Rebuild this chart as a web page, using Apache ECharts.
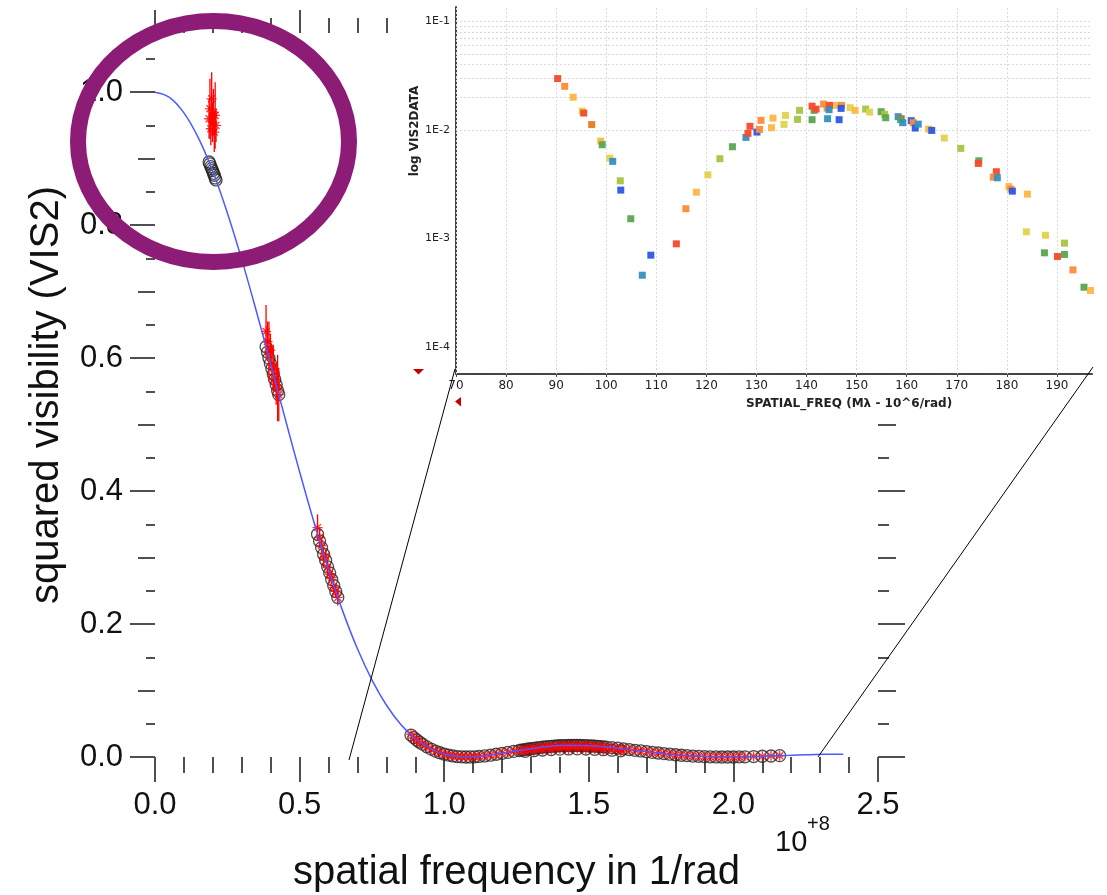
<!DOCTYPE html>
<html><head><meta charset="utf-8">
<script src="https://cdn.jsdelivr.net/npm/echarts@6/dist/echarts.min.js"></script>
<style>html,body{margin:0;padding:0;background:#fff}#c{width:1107px;height:895px}</style>
</head><body><div id="c"></div>
<script>
// ---------- main plot: model curve (spatial frequency in 1e8 / rad) ----------
const modelCurveFreq = [0,0.05,0.1,0.15,0.2,0.25,0.3,0.35,0.4,0.45,0.5,0.55,0.6,0.65,0.7,0.75,0.8,0.85,0.9,0.95,1.0,1.05,1.08,
  1.13,1.18,1.24,1.30,1.35,1.41,1.47,1.52,1.58,1.63,1.69,1.75,1.80,1.86,1.92,1.97,2.03,2.09,2.14,2.20,2.25,2.31,2.38];
const modelCurveVis2 = [1.0,0.9922,0.9689,0.9313,0.8806,0.8187,0.7481,0.6712,0.5906,0.5091,0.4290,0.3527,0.2819,0.2183,0.1629,0.1161,0.0782,0.0488,0.0274,0.0129,0.0044,0.0005,0.0,
  0.0011,0.0044,0.0085,0.0124,0.0155,0.0172,0.0174,0.0164,0.0143,0.0115,0.0085,0.0056,0.0032,0.0014,0.0004,0.0,0.0002,0.0009,0.0018,0.0027,0.0034,0.0040,0.0042];

// ---------- main plot: observations ----------
const freq = [
  0.187,0.190,0.193,0.196,0.199,0.202,0.205,0.208,0.211,
  0.384,0.389,0.394,0.399,0.404,0.409,0.414,0.419,0.424,0.428,
  0.562,0.569,0.576,0.583,0.590,0.597,0.604,0.611,0.618,0.625,0.632,
  0.885,0.895,0.905,0.915,0.925,0.940,0.955,0.970,0.985,1.000,1.015,1.030,1.045,1.060,1.075,1.090,1.105,
  1.12,1.14,1.16,1.18,1.20,1.22,1.24,1.26,
  1.27,1.28,1.29,1.30,1.31,1.32,1.33,1.34,1.35,1.36,1.37,1.38,1.39,1.40,1.41,1.42,1.43,1.44,1.45,1.46,1.47,1.48,1.49,1.50,1.51,1.52,1.53,1.54,1.55,1.56,
  1.58,1.60,1.62,1.64,1.66,1.68,1.70,1.72,1.74,1.76,1.78,1.80,1.82,1.84,1.86,1.88,1.90,1.92,1.94,1.96,1.98,2.00,2.02,2.04,
  2.07,2.10,2.13,2.16,
  1.28,1.31,1.34,1.37,1.40,1.43,1.46,1.49,1.52,1.55,1.58,1.61];
const vis2Model = [
  0.895,0.892,0.888,0.885,0.882,0.878,0.875,0.871,0.868,
  0.617,0.609,0.600,0.592,0.584,0.576,0.568,0.560,0.551,0.545,
  0.335,0.325,0.315,0.305,0.296,0.286,0.277,0.267,0.258,0.249,0.240,
  0.0330,0.0292,0.0256,0.0223,0.0193,0.0153,0.0118,0.0088,0.0064,0.0044,0.0028,0.0016,0.0007,0.0002,0.0000,0.0001,0.0003,
  0.0008,0.0016,0.0027,0.0041,0.0054,0.0069,0.0085,0.0098,
  0.0105,0.0112,0.0120,0.0126,0.0131,0.0137,0.0142,0.0148,0.0153,0.0157,0.0160,0.0163,0.0166,0.0169,0.0172,0.0172,0.0173,0.0173,0.0174,0.0174,0.0173,0.0172,0.0170,0.0168,0.0166,0.0164,0.0161,0.0157,0.0153,0.0149,
  0.0142,0.0132,0.0122,0.0112,0.0101,0.0091,0.0080,0.0070,0.0060,0.0051,0.0042,0.0034,0.0026,0.0020,0.0014,0.0010,0.0006,0.0003,0.0001,0.0000,0.0000,0.0000,0.0002,0.0003,
  0.0007,0.0011,0.0015,0.0020,
  0.0085,0.0095,0.0105,0.0112,0.0118,0.0121,0.0122,0.0120,0.0116,0.0110,0.0102,0.0093];
const vis2Obs = [
  0.960,0.975,0.945,0.990,0.955,0.970,0.940,0.965,0.950,
  0.640,0.625,0.610,0.612,0.590,0.585,0.570,0.560,0.555,0.545,
  0.345,0.330,0.318,0.300,0.302,0.285,0.275,0.270,0.255,0.250,0.240,
  0.0345,0.0285,0.0262,0.0218,0.0198,0.0149,0.0122,0.0085,0.0067,0.0041,0.0030,0.0014,0.0009,0.0003,0.0002,0.0001,0.0004,
  0.0012,0.0014,0.0031,0.0038,0.0058,0.0066,0.0089,0.0095,
  0.0110,0.0108,0.0125,0.0122,0.0136,0.0133,0.0148,0.0144,0.0158,0.0152,0.0166,0.0159,0.0171,0.0165,0.0178,0.0168,0.0179,0.0170,0.0180,0.0171,0.0178,0.0168,0.0175,0.0164,0.0170,0.0160,0.0166,0.0153,0.0158,0.0145,
  0.0147,0.0128,0.0127,0.0108,0.0106,0.0087,0.0084,0.0067,0.0064,0.0048,0.0045,0.0031,0.0029,0.0018,0.0016,0.0009,0.0008,0.0002,0.0003,0.0001,0.0002,0.0001,0.0003,0.0002,
  0.0009,0.0010,0.0017,0.0019,
  0.0090,0.0092,0.0110,0.0108,0.0123,0.0117,0.0127,0.0116,0.0121,0.0106,0.0107,0.0089];
const vis2Err = [
  0.030,0.045,0.025,0.040,0.030,0.035,0.030,0.050,0.025,
  0.040,0.030,0.045,0.025,0.030,0.035,0.020,0.030,0.050,0.040,
  0.020,0.015,0.012,0.015,0.010,0.012,0.014,0.010,0.012,0.010,0.012,
  0.0030,0.0020,0.0020,0.0020,0.0015,0.0015,0.0010,0.0010,0.0010,0.0008,0.0008,0.0008,0.0006,0.0006,0.0006,0.0006,0.0006,
  0.0012,0.0012,0.0013,0.0013,0.0014,0.0014,0.0015,0.0015,
  0.0016,0.0016,0.0017,0.0017,0.0018,0.0018,0.0018,0.0019,0.0019,0.0019,0.0020,0.0020,0.0020,0.0020,0.0021,0.0021,0.0021,0.0021,0.0021,0.0021,0.0021,0.0021,0.0020,0.0020,0.0020,0.0020,0.0019,0.0019,0.0019,0.0018,
  0.0018,0.0017,0.0016,0.0015,0.0014,0.0013,0.0012,0.0012,0.0011,0.0011,0.0010,0.0010,0.0009,0.0009,0.0008,0.0008,0.0008,0.0007,0.0007,0.0007,0.0007,0.0007,0.0007,0.0007,
  0.0008,0.0008,0.0009,0.0009,
  0.0015,0.0015,0.0015,0.0015,0.0015,0.0015,0.0015,0.0015,0.0015,0.0015,0.0015,0.0015];

// ---------- main plot tick values ----------
const xMajorTicks = [0,0.5,1.0,1.5,2.0,2.5];
const xMinorTicks = [0,0.1,0.2,0.3,0.4,0.5,0.6,0.7,0.8,0.9,1.0,1.1,1.2,1.3,1.4,1.5,1.6,1.7,1.8,1.9,2.0,2.1,2.2,2.3,2.4,2.5];
const topMajorTicks = [0,0.5];
const topMinorTicks = [0,0.1,0.2,0.3,0.4,0.5,0.6,0.7,0.8];
const yMajorTicks = [0,0.2,0.4,0.6,0.8,1.0];
const yMidTicks = [0,0.1,0.2,0.3,0.4,0.5,0.6,0.7,0.8,0.9,1.0];
const yMinorTicks = [0,0.05,0.1,0.15,0.2,0.25,0.3,0.35,0.4,0.45,0.5,0.55,0.6,0.65,0.7,0.75,0.8,0.85,0.9,0.95,1.0,1.05];
const rightMajorTicks = [0,0.2,0.4];
const rightMidTicks = [0,0.1,0.2,0.3,0.4,0.5];
const rightMinorTicks = [0,0.05,0.1,0.15,0.2,0.25,0.3,0.35,0.4,0.45,0.5];

// ---------- inset (SPATIAL_FREQ in Mlambda, log VIS2DATA) ----------
const insetFreq = [90.3,91.7,93.4,95.2,95.5,97.1,98.9,99.2,100.7,101.3,102.8,102.9,104.9,107.2,108.9,114.0,115.9,118.0,120.3,122.7,125.2,127.9,128.3,128.7,
  130.1,130.6,130.9,133.0,133.3,135.5,135.8,138.2,138.6,141.1,141.5,141.1,141.9,143.4,144.1,144.6,144.2,144.5,146.0,147.0,146.5,146.9,148.7,149.7,151.8,152.6,
  154.9,155.6,155.8,158.3,158.9,158.8,159.2,160.9,161.3,161.7,162.3,164.4,165.0,167.5,170.8,174.4,174.3,177.9,177.3,178.1,180.4,180.8,181.1,184.1,
  183.9,187.7,187.5,191.5,191.5,190.1,193.2,195.4,196.7];
const insetVis2 = [0.0297,0.0252,0.0200,0.0149,0.0143,0.0112,0.00789,0.00730,0.00549,0.00513,0.00340,0.00279,0.00152,0.000459,0.000702,0.000893,0.00188,0.00267,0.00386,0.00543,0.00700,0.00853,0.00929,0.0108,
  0.00955,0.0101,0.01225,0.01047,0.01285,0.01125,0.0136,0.0125,0.01514,0.01242,0.01514,0.01655,0.01555,0.0173,0.01589,0.01683,0.01268,0.01535,0.01683,0.01683,0.01242,0.01578,0.01603,0.01514,0.01555,0.01459,
  0.01472,0.0139,0.01294,0.01324,0.01268,0.01242,0.01165,0.01216,0.01165,0.0104,0.0113,0.01017,0.00989,0.00841,0.00676,0.0052,0.00491,0.00412,0.00367,0.00362,0.00301,0.00285,0.00273,0.00256,
  0.001153,0.00107,0.000738,0.000906,0.000713,0.000683,0.000514,0.000356,0.000332];
const insetBaseline = [0,1,2,3,0,8,2,5,3,6,4,7,5,6,7,0,1,2,3,4,5,6,0,0,
  7,1,1,2,2,3,3,4,4,5,5,0,0,1,1,0,6,6,2,1,7,7,3,2,4,3,
  5,4,5,6,0,5,6,7,1,7,6,2,7,3,4,5,0,0,1,6,2,1,7,2,
  3,3,5,4,5,0,1,5,2];
const baselineColors = ['#f64a2a','#fb8b37','#fbb843','#e1d24d','#a6c442','#57a64f','#3490c0','#2d57e6','#e47d1e'];
const insetXTicks = [70,80,90,100,110,120,130,140,150,160,170,180,190];
const insetYGrid = [6e-5,7e-5,8e-5,9e-5,1e-4,2e-4,3e-4,4e-4,5e-4,6e-4,7e-4,8e-4,9e-4,
  1e-3,2e-3,3e-3,4e-3,5e-3,6e-3,7e-3,8e-3,9e-3,1e-2,2e-2,3e-2,4e-2,5e-2,6e-2,7e-2,8e-2,9e-2,1e-1];

// ---------- chart ----------
const MAINFONT = "'Liberation Sans', Arial, Helvetica, sans-serif";
const INFONT = "'DejaVu Sans', sans-serif";
const tickColor = '#4f4f4f';

function tickAxis(pos, values, len, extra) {
  return Object.assign({
    type: 'value', gridIndex: 0, position: pos,
    axisLine: {show: false, onZero: false}, splitLine: {show: false},
    axisLabel: {show: false},
    axisTick: {show: true, customValues: values, length: len, inside: false, lineStyle: {color: tickColor, width: 2}}
  }, extra || {});
}
const xRange = {min: 0, max: 2.5};
const yRange = {min: 0, max: 1.089};

const chart = echarts.init(document.getElementById('c'), null, {renderer: 'canvas'});
const option = {
  animation: false,
  backgroundColor: '#ffffff',
  grid: [
    {left: 155, top: 33, width: 723, height: 724, outerBoundsMode: 'none', containLabel: false},
    {left: 456, top: 7, width: 636, height: 367, outerBoundsMode: 'none', containLabel: false}
  ],
  xAxis: [
    tickAxis('bottom', xMajorTicks, 25, Object.assign({}, xRange, {
      axisLabel: {show: true, customValues: xMajorTicks, formatter: v => v.toFixed(1), margin: 33,
        fontSize: 31, color: '#111', fontFamily: MAINFONT},
      name: 'spatial frequency in 1/rad', nameLocation: 'middle', nameGap: 96,
      nameTextStyle: {fontSize: 40, color: '#111', fontFamily: MAINFONT}
    })),
    tickAxis('bottom', xMinorTicks, 16, xRange),
    tickAxis('top', topMajorTicks, 23, xRange),
    tickAxis('top', topMinorTicks, 15, xRange),
    {
      type: 'value', gridIndex: 1, position: 'bottom', min: 70, max: 197,
      axisLine: {show: true, onZero: false, lineStyle: {color: '#4a4343', width: 2}},
      axisTick: {show: true, customValues: insetXTicks, length: 3, lineStyle: {color: '#4a4343'}},
      axisLabel: {show: true, customValues: insetXTicks, margin: 6, fontSize: 12, color: '#222', fontFamily: INFONT},
      splitLine: {show: false}
    }
  ],
  yAxis: [
    tickAxis('left', yMajorTicks, 25, Object.assign({}, yRange, {
      axisLabel: {show: true, customValues: yMajorTicks, formatter: v => v.toFixed(1), margin: 32,
        fontSize: 31, color: '#111', fontFamily: MAINFONT},
      name: 'squared visibility (VIS2)', nameLocation: 'middle', nameGap: 88,
      nameTextStyle: {fontSize: 40, color: '#111', fontFamily: MAINFONT}
    })),
    tickAxis('left', yMidTicks, 17, yRange),
    tickAxis('left', yMinorTicks, 9, yRange),
    tickAxis('right', rightMajorTicks, 27, yRange),
    tickAxis('right', rightMidTicks, 18, yRange),
    tickAxis('right', rightMinorTicks, 11, yRange),
    {
      type: 'log', logBase: 10, gridIndex: 1, position: 'left', min: 5.65e-5, max: 0.1355,
      axisLine: {show: true, onZero: false, lineStyle: {color: '#4a4343', width: 2}},
      axisTick: {show: false},
      axisLabel: {show: true, margin: 6, fontSize: 11, color: '#222', fontFamily: INFONT,
        formatter: function (v) {
          const e = Math.log10(v);
          if (Math.abs(e - Math.round(e)) > 1e-6) return '';
          return '1E' + Math.round(e);
        }},
      splitLine: {show: false}
    }
  ],
  series: [
    {
      type: 'scatter', xAxisIndex: 0, yAxisIndex: 0, z: 2,
      data: freq.map((f, i) => [f, vis2Model[i]]),
      symbol: 'circle', symbolSize: 12,
      itemStyle: {color: 'rgba(0,0,0,0)', borderColor: '#222', borderWidth: 1.3}
    },
    {
      type: 'custom', xAxisIndex: 0, yAxisIndex: 0, z: 3,
      data: freq.map((f, i) => [f, vis2Obs[i] - vis2Err[i], vis2Obs[i] + vis2Err[i]]),
      encode: {x: 0, y: [1, 2]},
      renderItem: function (params, api) {
        const p1 = api.coord([api.value(0), api.value(1)]);
        const p2 = api.coord([api.value(0), api.value(2)]);
        return {type: 'line', shape: {x1: p1[0], y1: p1[1], x2: p2[0], y2: p2[1]},
          style: {stroke: '#ff0000', lineWidth: 1.3}};
      }
    },
    {
      type: 'scatter', xAxisIndex: 0, yAxisIndex: 0, z: 3,
      data: freq.map((f, i) => [f, vis2Obs[i]]),
      symbol: 'path://M5 0L5 10M0 5L10 5M1.5 1.5L8.5 8.5M1.5 8.5L8.5 1.5', symbolSize: 10,
      itemStyle: {color: '#ff0000', borderColor: '#ff0000', borderWidth: 1.3}
    },
    {
      type: 'line', xAxisIndex: 0, yAxisIndex: 0, z: 4,
      data: modelCurveFreq.map((f, i) => [f, modelCurveVis2[i]]),
      showSymbol: false, smooth: 0.4,
      lineStyle: {color: '#4a5cff', width: 1.5}
    },
    {
      type: 'scatter', xAxisIndex: 4, yAxisIndex: 6, z: 3,
      data: insetFreq.map((f, i) => [f, insetVis2[i]]),
      symbol: 'rect', symbolSize: 7,
      itemStyle: {color: p => baselineColors[insetBaseline[p.dataIndex]], opacity: 0.95},
      markLine: {
        silent: true, symbol: 'none', z: 1, animation: false,
        label: {show: false},
        lineStyle: {color: '#d9d9d9', type: [2, 2], width: 1},
        emphasis: {disabled: true},
        data: insetYGrid.map(v => ({yAxis: v})).concat(insetXTicks.map(v => ({xAxis: v})))
      }
    }
  ],
  graphic: [
    {type: 'text', x: 415, y: 131, rotation: Math.PI / 2, z: 100,
      style: {text: 'log VIS2DATA', font: "bold 12px 'DejaVu Sans', sans-serif", fill: '#222', textAlign: 'center', textVerticalAlign: 'middle'}},
    {type: 'text', x: 849, y: 404, z: 100,
      style: {text: 'SPATIAL_FREQ (Mλ - 10^6/rad)', font: "bold 12px 'DejaVu Sans', sans-serif", fill: '#222', textAlign: 'center', textVerticalAlign: 'middle'}},
    {type: 'polygon', z: 100, shape: {points: [[413, 369], [424, 369], [418.5, 374.5]]}, style: {fill: '#c40000'}},
    {type: 'polygon', z: 100, shape: {points: [[455, 401.5], [461, 397], [461, 406.5]]}, style: {fill: '#c40000'}},
    {type: 'line', z: 100, shape: {x1: 349, y1: 760, x2: 455, y2: 369}, style: {stroke: '#000', lineWidth: 1}},
    {type: 'line', z: 100, shape: {x1: 818, y1: 757, x2: 1093, y2: 367}, style: {stroke: '#000', lineWidth: 1}},
    {type: 'text', x: 775, y: 843, z: 100,
      style: {text: '10', font: "29px 'Liberation Sans', Arial, sans-serif", fill: '#111', textAlign: 'left', textVerticalAlign: 'middle'}},
    {type: 'text', x: 807, y: 824, z: 100,
      style: {text: '+8', font: "20px 'Liberation Sans', Arial, sans-serif", fill: '#111', textAlign: 'left', textVerticalAlign: 'middle'}},
    {type: 'ellipse', z: 101, shape: {cx: 213.5, cy: 141.5, rx: 135.5, ry: 120.5},
      style: {fill: 'none', stroke: '#8c1c76', lineWidth: 16}}
  ]
};
chart.setOption(option);
</script>
</body></html>
